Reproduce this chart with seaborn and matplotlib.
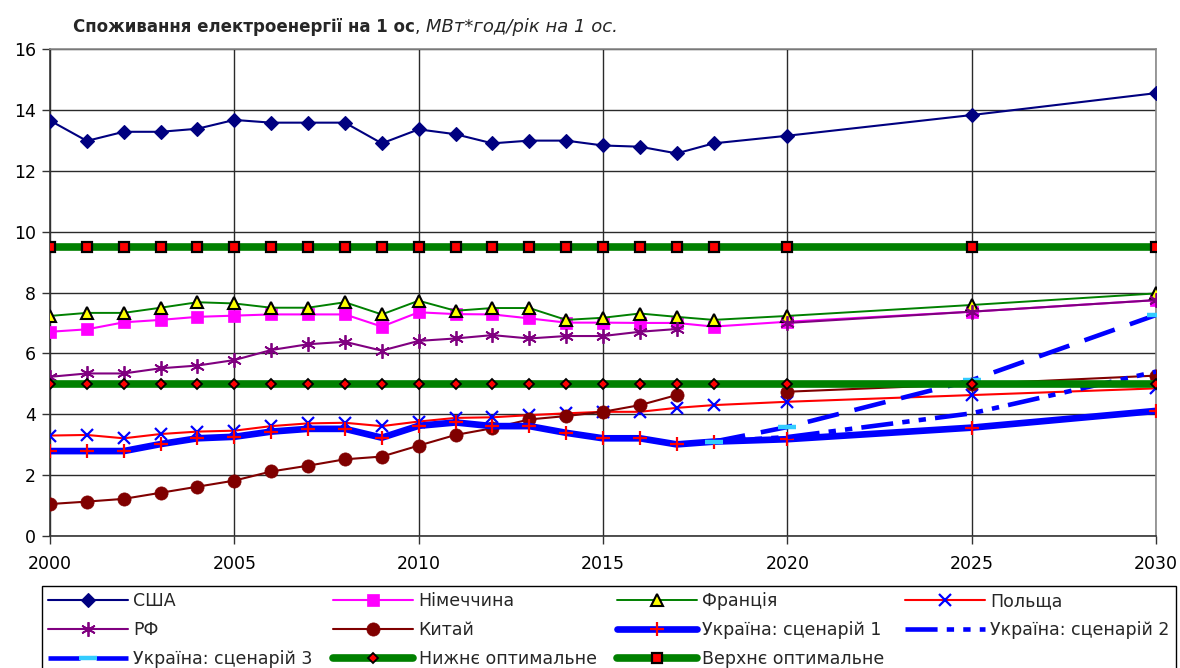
import numpy as np
import pandas as pd
import matplotlib
matplotlib.use("Agg")
import matplotlib.pyplot as plt
from matplotlib.lines import Line2D
import seaborn as sns

# ---- data -------------------------------------------------------------
years = [2000, 2001, 2002, 2003, 2004, 2005, 2006, 2007, 2008, 2009, 2010,
         2011, 2012, 2013, 2014, 2015, 2016, 2017, 2018, 2020, 2025, 2030]
nan = np.nan

usa = [13.65, 12.98, 13.28, 13.28, 13.38, 13.67, 13.58, 13.58, 13.58, 12.90, 13.36,
       13.20, 12.90, 12.99, 12.99, 12.83, 12.79, 12.57, 12.90, 13.15, 13.83, 14.55]
germany = [6.71, 6.79, 7.02, 7.10, 7.20, 7.24, 7.28, 7.28, 7.28, 6.88, 7.35,
           7.29, 7.28, 7.15, 7.01, 7.01, 7.00, 7.00, 6.88, 7.04, 7.37, 7.75]
france = [7.23, 7.33, 7.33, 7.50, 7.68, 7.64, 7.50, 7.50, 7.68, 7.28, 7.73,
          7.40, 7.49, 7.49, 7.10, 7.17, 7.31, 7.20, 7.10, 7.23, 7.59, 7.97]
poland = [3.30, 3.32, 3.21, 3.35, 3.43, 3.46, 3.61, 3.70, 3.72, 3.61, 3.76,
          3.88, 3.90, 3.97, 4.03, 4.08, 4.08, 4.21, 4.30, 4.41, 4.63, 4.85]
russia = [5.23, 5.34, 5.34, 5.51, 5.60, 5.78, 6.11, 6.30, 6.38, 6.09, 6.41,
          6.49, 6.60, 6.49, 6.57, 6.57, 6.71, 6.80, nan, 7.00, 7.37, 7.75]
china = [1.05, 1.13, 1.22, 1.42, 1.62, 1.82, 2.12, 2.31, 2.52, 2.61, 2.97,
         3.32, 3.54, 3.83, 3.94, 4.08, 4.30, 4.63, nan, 4.74, 4.99, 5.27]
ukraine_1 = [2.79, 2.79, 2.79, 3.02, 3.21, 3.26, 3.43, 3.52, 3.52, 3.23, 3.62,
             3.73, 3.61, 3.61, 3.39, 3.21, 3.21, 3.01, 3.10, 3.18, 3.56, 4.11]
ukraine_2 = [nan] * 18 + [3.10, 3.25, 4.03, 5.40]
ukraine_3 = [nan] * 18 + [3.10, 3.58, 5.12, 7.26]
lower_opt = [5.0] * 22
upper_opt = [9.5] * 22

labels = ["США", "Німеччина", "Франція", "Польща", "РФ", "Китай",
          "Україна: сценарій 1", "Україна: сценарій 2", "Україна: сценарій 3",
          "Нижнє оптимальне", "Верхнє оптимальне"]
y_ticks = [0, 2, 4, 6, 8, 10, 12, 14, 16]
x_ticks = [2000, 2005, 2010, 2015, 2020, 2025, 2030]

series_values = [usa, germany, france, poland, russia, china,
                 ukraine_1, ukraine_2, ukraine_3, lower_opt, upper_opt]

# ---- styles -----------------------------------------------------------
styles = [
    dict(color="#000080", linewidth=1.5, marker="D", markersize=6.8,
         markerfacecolor="#000080", markeredgecolor="#000080", markeredgewidth=0.8),
    dict(color="#FF00FF", linewidth=1.5, marker="s", markersize=9.3,
         markerfacecolor="#FF00FF", markeredgecolor="#FF00FF", markeredgewidth=0.5),
    dict(color="#008000", linewidth=1.4, marker="^", markersize=9.0,
         markerfacecolor="#FFFF00", markeredgecolor="#000000", markeredgewidth=1.5),
    dict(color="#FF0000", linewidth=1.5, marker="x", markersize=9.0,
         markerfacecolor="#0000FF", markeredgecolor="#0000FF", markeredgewidth=1.6),
    dict(color="#800080", linewidth=1.5, marker=(6, 2, 0), markersize=10.5,
         markerfacecolor="#800080", markeredgecolor="#800080", markeredgewidth=1.3),
    dict(color="#800000", linewidth=1.5, marker="o", markersize=9.5,
         markerfacecolor="#800000", markeredgecolor="#800000", markeredgewidth=0.5),
    dict(color="#0000FF", linewidth=4.8, marker="+", markersize=10.0,
         markerfacecolor="#FF0000", markeredgecolor="#FF0000", markeredgewidth=1.6,
         solid_capstyle="round"),
    dict(color="#0000FF", linewidth=3.3, linestyle=(0, (7, 2, 1.6, 2, 1.6, 2)),
         marker=None),
    dict(color="#0000FF", linewidth=3.3, linestyle=(0, (7, 3.5)), marker="_",
         markersize=13.5, markerfacecolor="#33CCFF", markeredgecolor="#33CCFF",
         markeredgewidth=3.2),
    dict(color="#008000", linewidth=5.5, marker="D", markersize=4.8,
         markerfacecolor="#FF0000", markeredgecolor="#000000", markeredgewidth=1.3,
         solid_capstyle="round"),
    dict(color="#008000", linewidth=5.5, marker="s", markersize=7.0,
         markerfacecolor="#FF0000", markeredgecolor="#000000", markeredgewidth=1.6,
         solid_capstyle="round"),
]

sns.set_theme(style="white")
plt.rcParams["font.family"] = ["DejaVu Sans"]

W, H = 1180, 668
fig = plt.figure(figsize=(W / 100, H / 100), dpi=100)
ax = fig.add_axes([50 / W, 1 - 536 / H, (1156 - 50) / W, (536 - 49) / H])

for z, (name, vals, st) in enumerate(zip(labels, series_values, styles)):
    df = pd.DataFrame({"year": years, "value": vals})
    # break the line where a year has no value
    df["seg"] = df["value"].isna().cumsum()
    df = df.dropna()
    sns.lineplot(data=df, x="year", y="value", units="seg", estimator=None,
                 ax=ax, legend=False, zorder=3 + z, **st)

ax.set_xlim(2000, 2030)
ax.set_ylim(0, 16)
ax.set_xticks(x_ticks)
ax.set_yticks(y_ticks)
ax.set_xlabel("")
ax.set_ylabel("")
ax.grid(True, color="#2a2a2a", linewidth=1.0)
ax.set_axisbelow(True)
for side in ["left", "bottom"]:
    ax.spines[side].set_color("#333333")
    ax.spines[side].set_linewidth(1.2)
for side in ["right", "top"]:
    ax.spines[side].set_color("#8a8a8a")
    ax.spines[side].set_linewidth(1.2)
ax.tick_params(axis="both", labelsize=12.5, labelcolor="#000000", color="#333333",
               length=6, width=1, direction="out", left=True, bottom=True)
ax.tick_params(axis="y", pad=4)
ax.tick_params(axis="x", pad=8)

# ---- title (bold part + italic units) ---------------------------------
ty = 1 - 31.5 / H
t1 = fig.text(73 / W, ty, "Споживання електроенергії на 1 ос",
              fontsize=12, fontweight="bold", va="baseline", ha="left")
fig.canvas.draw()
bb = t1.get_window_extent()
t2 = fig.text(bb.x1 / W, ty, ", ", fontsize=12.5, va="baseline", ha="left")
fig.canvas.draw()
bb2 = t2.get_window_extent()
fig.text(bb2.x1 / W, ty, "МВт*год/рік на 1 ос.", fontsize=13,
         fontstyle="italic", va="baseline", ha="left")

# ---- legend (column-major order gives rows read left to right) --------
order = [0, 4, 8, 1, 5, 9, 2, 6, 10, 3, 7]
handles = [Line2D([], [], **styles[i]) for i in order]
leg_labels = [labels[i] for i in order]
leg = fig.legend(handles, leg_labels, ncol=4, loc="upper left",
                 bbox_to_anchor=(42 / W, 1 - 586 / H, (1176 - 42) / W, 0),
                 mode="expand", fontsize=12.5, frameon=True, fancybox=False,
                 edgecolor="#000000", framealpha=1.0, borderpad=0.36,
                 labelspacing=0.62, handlelength=4.6, handletextpad=0.3,
                 columnspacing=1.0, borderaxespad=0.0, numpoints=1)
leg.get_frame().set_linewidth(1.0)

fig.savefig("out.png", dpi=100)
